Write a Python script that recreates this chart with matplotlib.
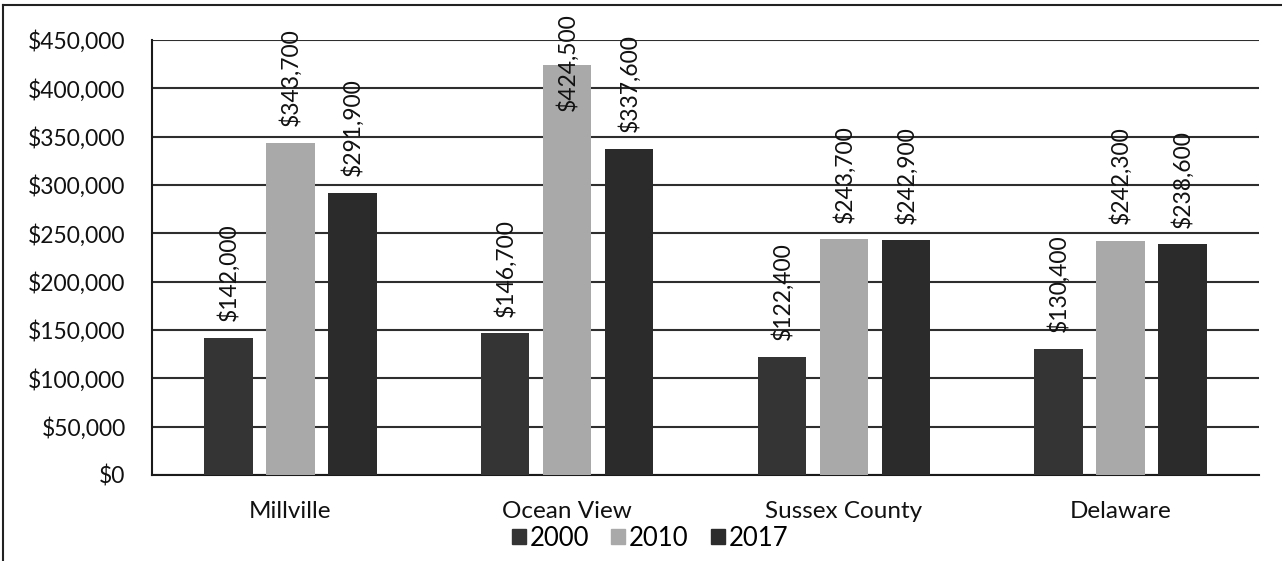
import matplotlib
matplotlib.use("Agg")
import matplotlib.pyplot as plt
import numpy as np
from matplotlib.lines import Line2D
from matplotlib.ticker import FuncFormatter, MultipleLocator

plt.rcParams['font.family'] = ['Lato', 'DejaVu Sans']

categories = ["Millville", "Ocean View", "Sussex County", "Delaware"]
years = ["2000", "2010", "2017"]
values_2000 = [142000, 146700, 122400, 130400]
values_2010 = [343700, 424500, 243700, 242300]
values_2017 = [291900, 337600, 242900, 238600]
series = [values_2000, values_2010, values_2017]
colors = ["#343434", "#a9a9a9", "#2b2b2b"]

W, H = 1282, 561
fig = plt.figure(figsize=(W / 100, H / 100), dpi=100)
ax = fig.add_axes([152 / W, 1 - 475 / H, (1259 - 152) / W, (475 - 40) / H])

x = np.arange(len(categories))
bar_w = 0.175
step = 0.224
labels = []
for i, (vals, col, yr) in enumerate(zip(series, colors, years)):
    pos = x + (i - 1) * step
    bars = ax.bar(pos, vals, width=bar_w, color=col, label=yr, zorder=3)
    for b, v in zip(bars, vals):
        t = ax.annotate(f"${v:,.0f}", (b.get_x() + b.get_width() / 2, v),
                        xytext=(0, 12), textcoords="offset points",
                        rotation=90, ha="center", va="bottom",
                        fontsize=16.5, color="#111111", zorder=4)
        labels.append(t)

ax.set_xlim(-0.5, 3.5)
ax.set_ylim(0, 450000)
ax.yaxis.set_major_locator(MultipleLocator(50000))
ax.yaxis.set_major_formatter(FuncFormatter(lambda v, p: f"${v:,.0f}"))
ax.grid(axis="y", color="#2e2e2e", linewidth=1.5, zorder=1)
ax.set_xticks(x)
ax.set_xticklabels(categories)
ax.tick_params(axis="x", length=0, labelsize=17.5, colors="#111111", pad=19)
ax.tick_params(axis="y", length=0, labelsize=16.5, colors="#111111", pad=19)
for s in ["top", "right"]:
    ax.spines[s].set_visible(False)
for s in ["left", "bottom"]:
    ax.spines[s].set_color("#1a1a1a")
    ax.spines[s].set_linewidth(1.5)

handles = [plt.Rectangle((0, 0), 1, 1, color=c) for c in colors]
fig.legend(handles, years, loc="center", bbox_to_anchor=(650 / W, 1 - 538 / H),
           ncol=3, frameon=False, fontsize=18.5, handlelength=0.55, handleheight=0.5,
           handletextpad=0.15, columnspacing=0.85, borderpad=0)

# keep value labels inside the chart frame
fig.canvas.draw()
limit = H - 13
for t in labels:
    bb = t.get_window_extent()
    if bb.y1 > limit:
        dx, dy = t.xyann
        t.xyann = (dx, dy - (bb.y1 - limit) * 72 / fig.dpi)

# outer frame around the chart
fig.add_artist(Line2D([2.5 / W, 2.5 / W], [0, 1 - 4.5 / H], transform=fig.transFigure,
                      color="#222222", linewidth=1.5))
fig.add_artist(Line2D([2.5 / W, 1], [1 - 4.5 / H, 1 - 4.5 / H], transform=fig.transFigure,
                      color="#222222", linewidth=1.5))

fig.savefig("out.png", dpi=100)
